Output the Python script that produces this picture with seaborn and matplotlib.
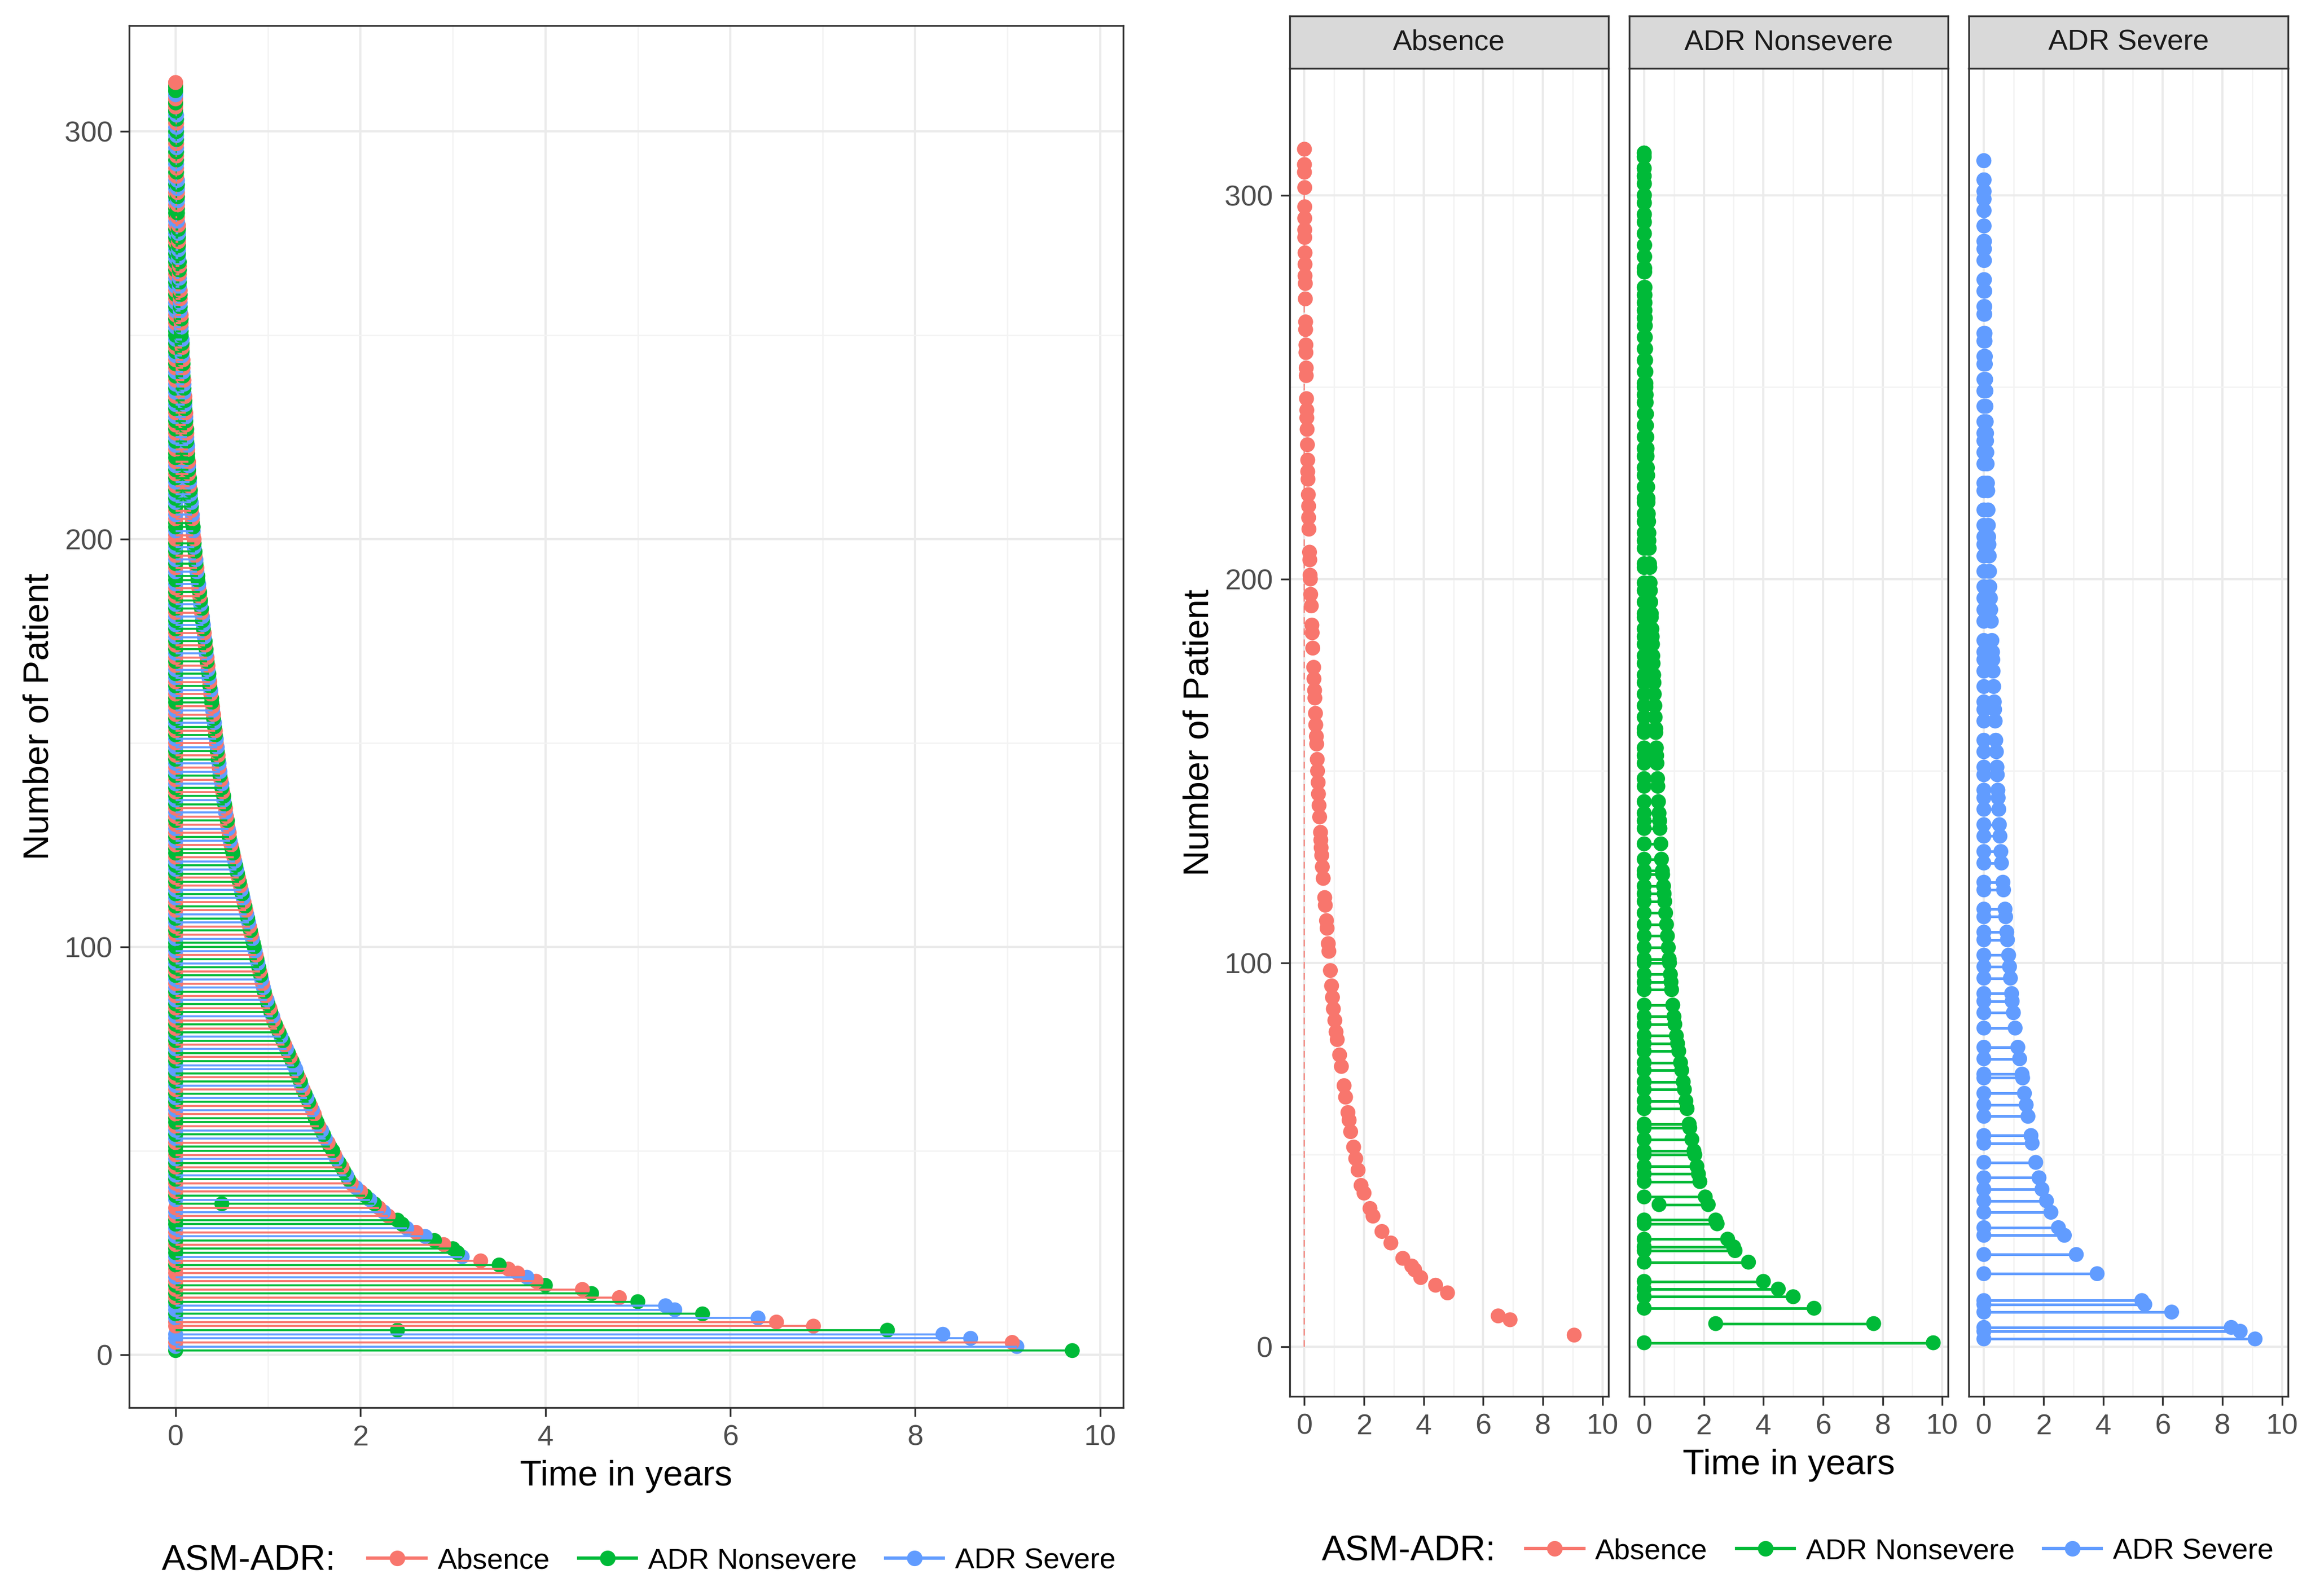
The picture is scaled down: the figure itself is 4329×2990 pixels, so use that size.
import matplotlib
matplotlib.use("Agg")
import matplotlib.pyplot as plt
from matplotlib.lines import Line2D
import seaborn as sns
import pandas as pd
import numpy as np

plt.rcParams["font.family"] = "Liberation Sans"

end_time = [9.7,9.1,9.05,8.6,8.3,7.7,6.9,6.5,6.3,5.7,
 5.4,5.3,5.0,4.8,4.5,4.4,4.0,3.9,3.8,3.7,
 3.6,3.5,3.3,3.1,3.05,3.0,2.9,2.8,2.7,2.6,
 2.5,2.45,2.4,2.3,2.25,2.2,2.15,2.1,2.05,2.0,
 1.95,1.9,1.87,1.85,1.82,1.8,1.77,1.74,1.72,1.7,
 1.67,1.65,1.62,1.6,1.58,1.55,1.53,1.51,1.5,1.48,
 1.46,1.44,1.42,1.4,1.38,1.36,1.35,1.33,1.31,1.3,
 1.28,1.26,1.24,1.22,1.2,1.18,1.16,1.14,1.12,1.1,
 1.08,1.06,1.05,1.03,1.02,1.0,0.99,0.97,0.96,0.95,
 .94,.93,.92,.91,.9,.89,.88,.87,.86,.85,
 .84,.83,.82,.81,.8,.79,.78,.77,.76,.75,
 .74,.73,.72,.71,.7,.69,.68,.67,.66,.65,.64,.63,.62,.61,.6,
 .59,.58,.58,.57,.56,.56,.55,.54,.54,.53,.52,.52,.51,.5,.5,.49,.48,.48,.47,.47,.46,.46,.45,.45,.44,
 .44,.43,.43,.42,.42,.41,.41,.4,.4,.39,.39,.38,.38,.37,.37,.36,.36,.35,.35,.34,.34,.33,.33,.32,.32,
 .31,.31,.3,.3,.29,.29,.28,.28,.27,.27,.26,.26,.25,.25,.24,.24,.23,.23,.22,.22,.21,.21,.2,.2,.2,
 .19,.19,.19,.18,.18,.18,.17,.17,.17,.16,.16,.16,.15,.15,.15,.14,.14,.14,.14,.13,.13,.13,.13,.12,.12,
 .12,.12,.11,.11,.11,.11,.1,.1,.1,.1,.09,.09,.09,.09,.08,.08,.08,.08,.08,.07,.07,.07,.07,.07,.06,
 .06,.06,.06,.06,.06,.05,.05,.05,.05,.05,.05,.04,.04,.04,.04,.04,.04,.04,.03,.03,.03,.03,.03,.03,.03,
 .03,.03,.02,.02,.02,.02,.02,.02,.02,.02,.02,.02,.02,.01,.01,.01,.01,.01,.01,.01,.01,.01,.01,.01,.01,
 .01,.01,.01,.01,0,0,0,0,0,0,0,0]

cat_codes = ("NSASSNAASN" "SSNANANASA" "ANASNNANSA" "SNNASANSNA" "SANSNANSAN"
             "NASNSANNAS" "ANSNASNANS" "SNANSANSNA" "NASNANSANS" "ASNANSNASN"
             "NSANASNSAN" "ASNSANANSN" "SANNASNASA" "NASANSNANS" "ANSASNANSA"
             "SNANSNASAN" "NASNASNSAN" "ASNANSANSN" "SANSNANASN" "NSANSANSNA"
             "ASNNASANSN" "SNASNANSAN" "NASNSANANS" "ANSNASNSAN" "SANASNANSN"
             "NSANASNSAN" "ASNSANANSN" "SNANSNASAN" "NASNASNSAN" "ASNANSANSN"
             "SANSNANASN" "NASA")
cat_names = {"A": "Absence", "N": "ADR Nonsevere", "S": "ADR Severe"}
start_exceptions = {6: 2.4, 37: 0.5}

n = len(end_time)
patient = np.arange(1, n + 1)
df = pd.DataFrame({"patient": patient, "end": end_time,
                   "cat": [cat_names[c] for c in cat_codes[:n]]})
df["start"] = [start_exceptions.get(p, 0.0) for p in df["patient"]]

order = ["Absence", "ADR Nonsevere", "ADR Severe"]
pal = {"Absence": "#F8766D", "ADR Nonsevere": "#00BA38", "ADR Severe": "#619CFF"}

fig = plt.figure(figsize=(14.43, 9.967), dpi=300)

def style(ax, xlim, ylim):
    ax.set_xlim(*xlim); ax.set_ylim(*ylim)
    ax.set_xticks([0, 2, 4, 6, 8, 10]); ax.set_xticks([1, 3, 5, 7, 9], minor=True)
    ax.set_yticks([0, 100, 200, 300]); ax.set_yticks([50, 150, 250], minor=True)
    ax.grid(True, which="major", color="#EBEBEB", lw=1.0)
    ax.grid(True, which="minor", color="#F3F3F3", lw=0.6)
    ax.set_axisbelow(True)
    for s in ax.spines.values():
        s.set_color("#333333"); s.set_linewidth(0.8)
    ax.tick_params(which="major", colors="#333333", labelcolor="#4D4D4D", labelsize=13, length=4)
    ax.tick_params(which="minor", length=0)
    ax.set_xlabel(""); ax.set_ylabel("")

axL = fig.add_axes([0.056, 0.118, 0.430, 0.866])
for c in order:
    d = df[df.cat == c]
    axL.hlines(d.patient, 0, d.end, color=pal[c], lw=0.9)
pts = pd.concat([df.assign(x=df.start), df.assign(x=df.end)])
sns.scatterplot(data=pts, x="x", y="patient", hue="cat", palette=pal, hue_order=order,
                s=45, edgecolor="none", legend=False, ax=axL)
style(axL, (-0.5, 10.25), (-13, 326))
axL.set_xlabel("Time in years", fontsize=16)
axL.set_ylabel("Number of Patient", fontsize=16)

xs = [0.558, 0.705, 0.852]
for i, c in enumerate(order):
    ax = fig.add_axes([xs[i], 0.125, 0.138, 0.832])
    d = df[df.cat == c]
    if c == "Absence":
        ax.vlines(0, 0, 312, color=pal[c], lw=0.5, linestyles=(0, (6, 4)))
        p = d.assign(x=d.end)
    else:
        ax.hlines(d.patient, d.start, d.end, color=pal[c], lw=1.2)
        p = pd.concat([d.assign(x=d.start), d.assign(x=d.end)])
    sns.scatterplot(data=p, x="x", y="patient", color=pal[c], s=45, edgecolor="none",
                    legend=False, ax=ax)
    style(ax, (-0.5, 10.2), (-13, 333))
    if i > 0:
        ax.set_yticklabels([])
        ax.tick_params(axis="y", length=0)
    else:
        ax.set_ylabel("Number of Patient", fontsize=16)
    if i == 1:
        ax.set_xlabel("Time in years", fontsize=16)
    sax = fig.add_axes([xs[i], 0.957, 0.138, 0.033])
    sax.set_facecolor("#D9D9D9")
    sax.set_xticks([]); sax.set_yticks([])
    for s in sax.spines.values():
        s.set_color("#333333"); s.set_linewidth(0.8)
    sax.text(0.5, 0.5, c, ha="center", va="center", fontsize=13, color="#1A1A1A",
             transform=sax.transAxes)

handles = [Line2D([0], [0], color=pal[c], marker="o", markersize=6, lw=1.5) for c in order]
fig.text(0.07, 0.022, "ASM-ADR:", fontsize=16, va="center")
fig.legend(handles, order, loc="center left", bbox_to_anchor=(0.148, 0.022), ncol=3,
           frameon=False, fontsize=13, handlelength=2, columnspacing=1.0, handletextpad=0.4)
fig.text(0.572, 0.028, "ASM-ADR:", fontsize=16, va="center")
fig.legend(handles, order, loc="center left", bbox_to_anchor=(0.649, 0.028), ncol=3,
           frameon=False, fontsize=13, handlelength=2, columnspacing=1.0, handletextpad=0.4)

fig.savefig("out.png", dpi=300, facecolor="white")
